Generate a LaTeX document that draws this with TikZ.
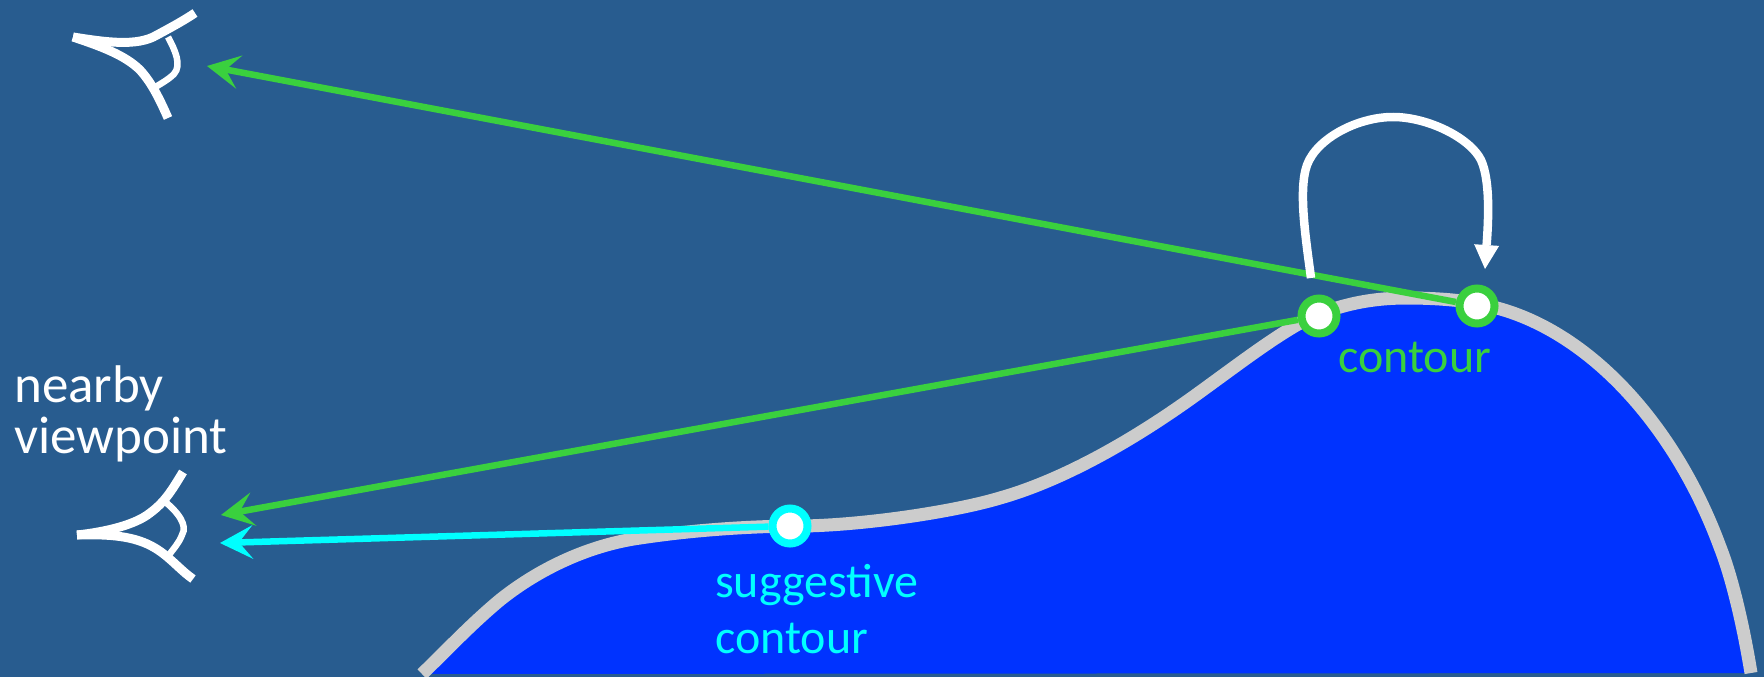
\documentclass[tikz,border=0pt]{standalone}
\usepackage{fontspec}
\setmainfont{Carlito}
\usetikzlibrary{arrows.meta}
\definecolor{bgc}{HTML}{285C8F}
\definecolor{bluec}{HTML}{0033FF}
\definecolor{greenc}{HTML}{3AD03E}
\definecolor{cyanc}{HTML}{00FFFF}
\definecolor{grayc}{HTML}{CCCCCC}
\newcommand{\silcurve}{(422,674) .. controls (445,652) and (470,625) .. (500,600) .. controls (540,568) and (590,545) .. (640,538) .. controls (680,532) and (730,527) .. (790,526) .. controls (850,527) and (950,513) .. (1000,498) .. controls (1060,481) and (1130,443) .. (1200,392) .. controls (1240,363) and (1270,340) .. (1300,323) .. controls (1335,305) and (1370,298) .. (1407,298) .. controls (1440,298) and (1475,301) .. (1497,308) .. controls (1590,333) and (1675,425) .. (1720,547) .. controls (1733,580) and (1744,630) .. (1751,673)}
\tikzset{
 x=1pt,y=-1pt,
 lid/.style={draw=white,line width=9pt},
 iris/.style={draw=white,line width=6.5pt},
 ray/.style={line width=6.5pt,-{Stealth[length=33pt,width=34pt,inset=14pt,line width=0pt]}},
 spot/.style={circle,fill=white,line width=8pt,minimum size=35pt,inner sep=0pt},
 lbl/.style={anchor=base west,inner sep=0pt,font=\fontsize{48}{51}\selectfont},
}
\begin{document}
\begin{tikzpicture}
\useasboundingbox (0,0) rectangle (1764,677);
\fill[bgc] (0,0) rectangle (1764,677);
% surface
\fill[bluec] \silcurve -- cycle;
\draw[grayc,line width=13pt] \silcurve;
% eyes
\draw[lid] (73,37) .. controls (105,42) and (137,47) .. (157,35) .. controls (170,28) and (183,21) .. (195,13);
\draw[lid] (73,37) .. controls (100,46) and (125,55) .. (140,70) .. controls (152,83) and (160,100) .. (168,118);
\draw[iris] (168,37) .. controls (175,50) and (182,65) .. (174,74) .. controls (168,80) and (160,84) .. (154,88);
\draw[lid] (77,535) .. controls (105,532) and (135,525) .. (150,513) .. controls (165,502) and (172,490) .. (183,472);
\draw[lid] (77,535) .. controls (110,534) and (135,536) .. (155,548) .. controls (170,557) and (180,570) .. (193,579);
\draw[iris] (163,500) .. controls (178,512) and (188,525) .. (182,535) .. controls (179,543) and (174,548) .. (169,555);
% points
\coordinate (tipA) at (207,66);
\coordinate (tipB) at (221,515);
\coordinate (tipC) at (220,543);
\node[spot,draw=cyanc] (sc) at (790,526) {};
\node[spot,draw=greenc] (c1) at (1319,316) {};
\node[spot,draw=greenc] (c2) at (1477,306) {};
% rays
\draw[ray,greenc] (c2) -- (tipA);
\draw[ray,greenc] (c1) -- (tipB);
\draw[ray,cyanc] (sc) -- (tipC);
% loop
\coordinate (loopS) at (1311,278);
\coordinate (loopE) at (1485,269);
\draw[white,line width=8.5pt,-{Triangle[length=24pt,width=25pt,line width=0pt]}] (loopS) .. controls (1306,240) and (1298,190) .. (1307,165) .. controls (1317,138) and (1358,117) .. (1393,117) .. controls (1428,117) and (1470,138) .. (1481,160) .. controls (1491,182) and (1488,225) .. (loopE);
% labels
\node[lbl,white,font=\fontsize{53}{51}\selectfont] (t1) at (14,402) {nearby};
\node[lbl,white,font=\fontsize{53}{51}\selectfont] (t2) at (14,453) {viewpoint};
\node[lbl,greenc] (t3) at (1338,372) {contour};
\node[lbl,cyanc] (t4) at (715,597) {suggestive};
\node[lbl,cyanc] (t5) at (715,653) {contour};
\end{tikzpicture}
\end{document}
